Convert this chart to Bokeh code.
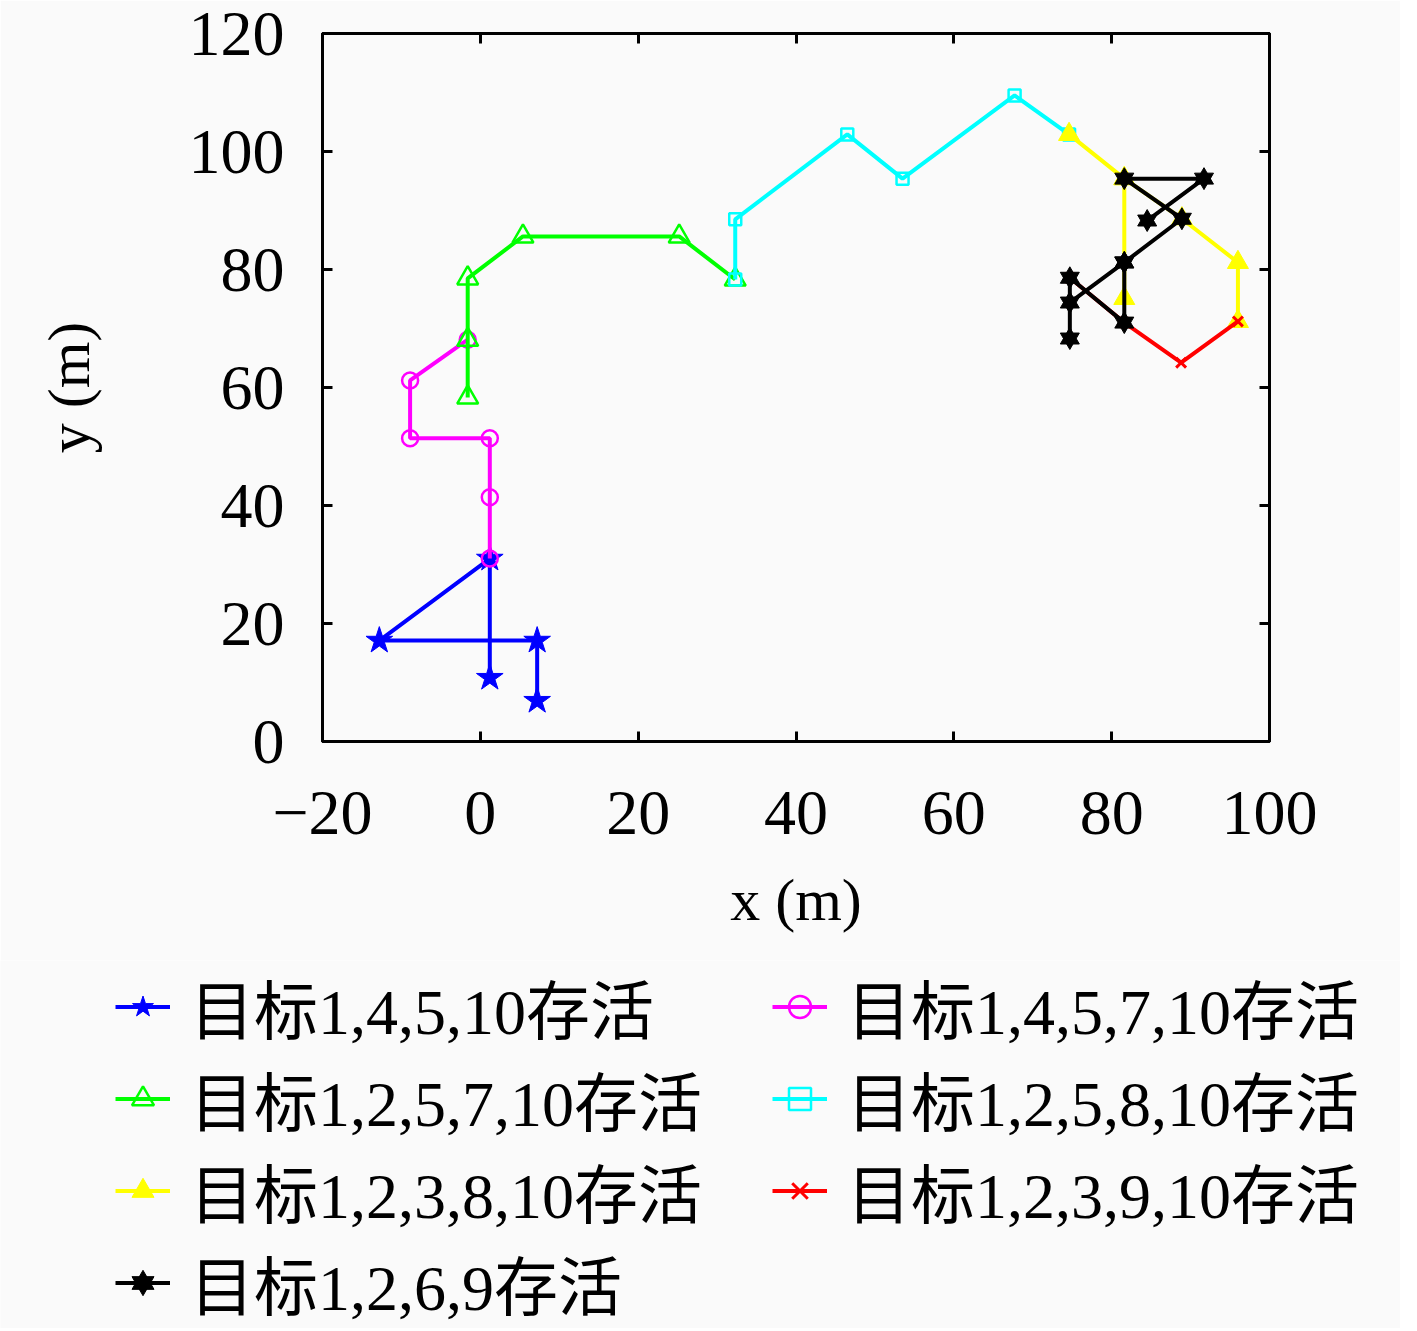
from bokeh.plotting import figure
from bokeh.models import LinearAxis, Legend, LegendItem, FixedTicker, Range1d, Plot
from bokeh.layouts import column
from bokeh.embed import file_html
from bokeh.resources import INLINE

# ---- data ----
blue_x = [1.2, 1.2, -12.8, 7.2, 7.2]
blue_y = [10.8, 31.0, 17.1, 17.1, 6.9]

magenta_x = [1.2, 1.2, 1.2, -8.9, -8.9, -1.6]
magenta_y = [31.0, 41.4, 51.4, 51.4, 61.2, 68.1]

green_x = [-1.6, -1.6, -1.6, 5.4, 25.2, 32.3]
green_y = [58.3, 68.1, 78.5, 85.6, 85.6, 78.3]

cyan_x = [32.3, 32.3, 46.5, 53.5, 67.7, 74.6]
cyan_y = [78.3, 88.5, 102.9, 95.4, 109.5, 102.9]

yellow_x = [74.6, 81.6, 81.6, 81.6, 88.9, 96.0, 96.0]
yellow_y = [102.9, 95.4, 75.1, 95.4, 88.6, 81.2, 71.2]

red_x = [74.7, 81.6, 88.8, 96.0]
red_y = [78.6, 71.0, 64.2, 71.2]

black_x = [84.5, 91.7, 81.6, 88.9, 81.6, 81.6, 74.7, 74.7, 74.7, 81.6]
black_y = [88.3, 95.4, 95.4, 88.6, 81.2, 71.0, 78.6, 68.3, 74.4, 81.2]

labels = ["目标1,4,5,10存活", "目标1,4,5,7,10存活", "目标1,2,5,7,10存活",
          "目标1,2,5,8,10存活", "目标1,2,3,8,10存活", "目标1,2,3,9,10存活",
          "目标1,2,6,9存活"]

x_ticks = [-20, 0, 20, 40, 60, 80, 100]
y_ticks = [0, 20, 40, 60, 80, 100, 120]

SERIF = "Liberation Serif"
LEG_FONT = "'Liberation Serif', 'Noto Sans CJK SC'"
BG = "#fafafa"

P_H = 960
L_H = 368

p = figure(width=1400, height=P_H, output_backend="svg", toolbar_location=None,
           x_range=Range1d(-20, 100), y_range=Range1d(0, 120),
           min_border_left=322, min_border_right=131, min_border_top=33,
           min_border_bottom=P_H - 741, background_fill_color=BG, border_fill_color=BG)
p.grid.visible = False
p.outline_line_color = "black"
p.outline_line_width = 3

def style_axis(ax, ticks, show_labels=True):
    ax.ticker = FixedTicker(ticks=ticks)
    ax.axis_line_color = "black"
    ax.axis_line_width = 3
    ax.major_tick_in = 10
    ax.major_tick_out = 0
    ax.major_tick_line_width = 3
    ax.minor_tick_line_color = None
    ax.major_label_text_font = SERIF
    ax.major_label_text_font_size = "64px"
    ax.major_label_text_color = "black"
    if not show_labels:
        ax.major_label_overrides = {t: "" for t in ticks}
        ax.major_label_standoff = 0

xa = p.xaxis[0]
style_axis(xa, x_ticks)
xa.major_label_standoff = 50
xa.major_label_overrides = {-20: "\u221220"}
xa.axis_label = "x (m)"
xa.axis_label_text_font = SERIF
xa.axis_label_text_font_size = "60px"
xa.axis_label_text_font_style = "normal"
xa.axis_label_text_color = "black"
xa.axis_label_standoff = 30

ya = p.yaxis[0]
style_axis(ya, y_ticks)
ya.major_label_standoff = 38
ya.axis_label = "y (m)"
ya.axis_label_text_font = SERIF
ya.axis_label_text_font_size = "60px"
ya.axis_label_text_font_style = "normal"
ya.axis_label_text_color = "black"
ya.axis_label_standoff = 84

top = LinearAxis()
style_axis(top, x_ticks, show_labels=False)
p.add_layout(top, "above")
right = LinearAxis()
style_axis(right, y_ticks, show_labels=False)
p.add_layout(right, "right")

LW = 4

# legend host figure (same series, hidden; only used for the legend glyphs)
q = figure(width=1400, height=L_H, output_backend="svg", toolbar_location=None,
           x_axis_location=None, y_axis_location=None, min_border=0,
           background_fill_color=BG, border_fill_color=BG)
q.grid.visible = False
q.outline_line_color = None

if "frame_align" in Plot.properties():
    q.frame_align = False
    p.frame_align = False
    leg_x, leg_side = 115, "center"
else:
    leg_x, leg_side = 115 - 322, "above"

def series(fig, xs, ys, color, marker, size, fill, mlw, visible=True):
    rs = [fig.line(xs, ys, line_color=color, line_width=LW, visible=visible)]
    if marker == "hexagram":
        for mk in ("triangle", "inverted_triangle"):
            rs.append(fig.scatter(xs, ys, marker=mk, size=size, fill_color=fill,
                                  line_color=color, line_width=mlw, visible=visible))
    else:
        rs.append(fig.scatter(xs, ys, marker=marker, size=size, fill_color=fill,
                              line_color=color, line_width=mlw, visible=visible))
    return rs

specs = [
    (blue_x, blue_y, "blue", "star", 28, "blue", 1),
    (magenta_x, magenta_y, "magenta", "circle", 16, None, 2.5),
    (green_x, green_y, "#00ff00", "triangle", 21, None, 2.5),
    (cyan_x, cyan_y, "cyan", "square", 12, None, 2.5),
    (yellow_x, yellow_y, "yellow", "triangle", 21, "yellow", 1),
    (red_x, red_y, "red", "x", 14, None, 3),
    (black_x, black_y, "black", "hexagram", 19, "black", 1),
]

items = []
for (xs, ys, c, mk, sz, fill, mlw), lab in zip(specs, labels):
    series(p, xs, ys, c, mk, sz, fill, mlw)
    rs = series(q, xs, ys, c, mk, sz, fill, mlw, visible=False)
    items.append(LegendItem(label=lab, renderers=rs))

legend = Legend(items=items, orientation="horizontal", ncols=2,
                location=(leg_x, 0),
                glyph_width=55, glyph_height=55, label_standoff=20,
                label_width=582, spacing=0, padding=0, margin=0,
                label_text_font=LEG_FONT, label_text_font_size="64px",
                label_text_color="black",
                border_line_alpha=0, background_fill_alpha=0)
q.add_layout(legend, leg_side)

layout = column(p, q, spacing=0)
open("out.html", "w").write(file_html(layout, INLINE))
